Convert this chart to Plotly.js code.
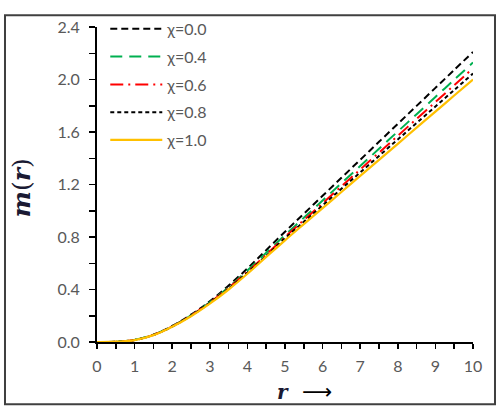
<!DOCTYPE html>
<html>
<head>
<meta charset="utf-8">
<script src="https://cdn.plot.ly/plotly-3.0.1.min.js"></script>
<style>
  html, body { margin: 0; padding: 0; background: #fff; }
  #chart { width: 502px; height: 414px; }
</style>
</head>
<body>
<div id="chart"></div>
<script>
// radial coordinate
const r = [0, 0.5, 1, 1.5, 2, 2.5, 3, 3.5, 4, 4.5, 5, 5.5, 6, 6.5, 7, 7.5, 8, 8.5, 9, 9.5, 10];

// mass function m(r) for each value of the parameter chi
const chi00 = [0, 0.002, 0.016, 0.056, 0.122, 0.208, 0.310, 0.430, 0.560, 0.700, 0.840, 0.977, 1.114, 1.251, 1.388, 1.525, 1.662, 1.799, 1.936, 2.073, 2.210];
const chi04 = [0, 0.002, 0.016, 0.055, 0.120, 0.204, 0.303, 0.418, 0.545, 0.680, 0.815, 0.946, 1.078, 1.210, 1.341, 1.472, 1.604, 1.735, 1.867, 1.998, 2.130];
const chi06 = [0, 0.002, 0.015, 0.054, 0.119, 0.202, 0.300, 0.412, 0.535, 0.665, 0.800, 0.929, 1.057, 1.186, 1.314, 1.443, 1.571, 1.700, 1.828, 1.957, 2.085];
const chi08 = [0, 0.002, 0.015, 0.053, 0.118, 0.200, 0.297, 0.407, 0.528, 0.657, 0.790, 0.916, 1.041, 1.167, 1.292, 1.418, 1.543, 1.669, 1.794, 1.920, 2.045];
const chi10 = [0, 0.002, 0.014, 0.052, 0.116, 0.196, 0.292, 0.400, 0.520, 0.648, 0.775, 0.898, 1.020, 1.143, 1.265, 1.388, 1.510, 1.633, 1.755, 1.878, 2.000];

const seriesNames = ['χ=0.0', 'χ=0.4', 'χ=0.6', 'χ=0.8', 'χ=1.0'];
const seriesData = [chi00, chi04, chi06, chi08, chi10];
const seriesStyle = [
  { color: '#000000', dash: '7px,4px', width: 2 },
  { color: '#00B050', dash: '12px,7px', width: 2 },
  { color: '#FF0000', dash: '13px,5px,2px,5px', width: 2 },
  { color: '#000000', dash: '4px,3px', width: 2 },
  { color: '#FFC000', dash: 'solid', width: 2.25 }
];

const traces = seriesData.map((y, i) => ({
  type: 'scatter',
  mode: 'lines',
  x: r,
  y: y,
  name: seriesNames[i],
  legendgroup: 'g' + i,
  line: { color: seriesStyle[i].color, dash: seriesStyle[i].dash, width: seriesStyle[i].width, shape: 'spline' }
}));

const tickFont = { family: 'Lato, "Open Sans", sans-serif', size: 16, color: '#595959' };

const layout = {
  width: 502,
  height: 414,
  margin: { l: 97, r: 29, t: 17, b: 72 },
  paper_bgcolor: '#ffffff',
  plot_bgcolor: '#ffffff',
  showlegend: true,
  legend: {
    x: 0.022, y: 1.048, xanchor: 'left', yanchor: 'top',
    xref: 'paper', yref: 'paper',
    bgcolor: 'rgba(0,0,0,0)',
    font: { family: 'Lato, "Open Sans", sans-serif', size: 16, color: '#595959' },
    traceorder: 'grouped',
    tracegroupgap: 4,
    itemwidth: 52
  },
  xaxis: {
    range: [0, 10],
    tick0: 0, dtick: 1,
    ticks: 'outside', ticklen: 5, tickwidth: 1.5, tickcolor: '#000',
    ticklabelstandoff: 4,
    minor: { dtick: 0.5, ticks: 'outside', ticklen: 5, tickwidth: 1.5, tickcolor: '#000', showgrid: false },
    showline: true, linecolor: '#000', linewidth: 2,
    showgrid: false, zeroline: false,
    tickfont: tickFont,
    fixedrange: true
  },
  yaxis: {
    range: [0, 2.4],
    tick0: 0, dtick: 0.4,
    tickformat: '.1f',
    ticks: 'outside', ticklen: 6, tickwidth: 1.5, tickcolor: '#000',
    ticklabelstandoff: 6,
    minor: { dtick: 0.2, ticks: 'outside', ticklen: 6, tickwidth: 1.5, tickcolor: '#000', showgrid: false },
    showline: true, linecolor: '#000', linewidth: 2,
    showgrid: false, zeroline: false,
    tickfont: tickFont,
    fixedrange: true
  },
  annotations: [
    {
      xref: 'paper', yref: 'paper', x: -0.2, y: 0.49,
      xanchor: 'center', yanchor: 'middle',
      text: '<b><i>m</i></b>(<b><i>r</i></b>)',
      textangle: -90, showarrow: false,
      font: { family: '"DejaVu Serif", serif', size: 25, color: '#1a1a33' }
    },
    {
      xref: 'paper', yref: 'paper', x: 0.495, y: -0.114,
      xanchor: 'center', yanchor: 'top',
      text: '<b><i>r</i></b>',
      showarrow: false,
      font: { family: '"DejaVu Serif", serif', size: 20, color: '#1a1a33' }
    },
    {
      xref: 'paper', yref: 'paper', x: 0.585, y: -0.114,
      xanchor: 'center', yanchor: 'top',
      text: '⟶',
      showarrow: false,
      font: { family: '"DejaVu Sans", sans-serif', size: 21, color: '#000' }
    }
  ],
  shapes: [
    {
      type: 'rect', xref: 'paper', yref: 'paper',
      x0: -0.2447, x1: 1.0585, y0: -0.198, y1: 1.037,
      line: { color: '#404040', width: 2 },
      fillcolor: 'rgba(0,0,0,0)',
      layer: 'below'
    }
  ]
};

Plotly.newPlot('chart', traces, layout, { displayModeBar: false, staticPlot: true });
</script>
</body>
</html>
